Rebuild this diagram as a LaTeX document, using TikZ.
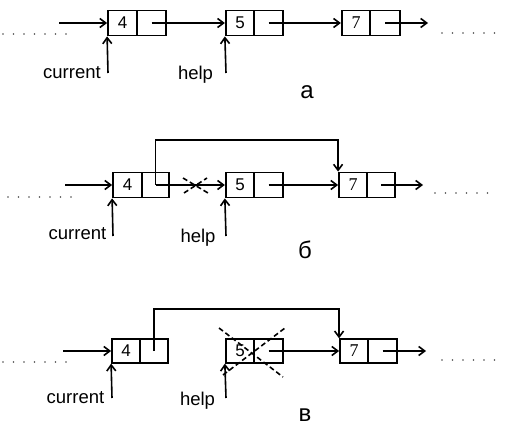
\documentclass[tikz,border=0pt]{standalone}
\usepackage{fontspec}
\setmainfont{Liberation Sans}
\newfontfamily\serifnum{Liberation Serif}
\usetikzlibrary{arrows.meta}
\tikzset{
  cellbox/.style={draw, line width=1.8pt, inner sep=0pt, minimum height=25pt, minimum width=28.5pt, font=\fontsize{17}{17}\selectfont},
  sevenbox/.style={cellbox, font=\serifnum\fontsize{18}{18}\selectfont},
  arr/.style={line width=1.6pt, -{Straight Barb[length=6pt,width=9pt,line width=1.6pt]}},
  lbl/.style={anchor=base, inner sep=0pt, font=\fontsize{18.5}{18.5}\selectfont},
  capltr/.style={anchor=base, inner sep=0pt, font=\fontsize{24}{24}\selectfont},
  dotline/.style={line width=1.6pt, line cap=round, dash pattern=on 0pt off 10.5pt, black!70},
  xcross/.style={line width=1.6pt, dash pattern=on 5pt off 3pt}
}
\begin{document}
\begin{tikzpicture}[x=1pt,y=-1pt]
\useasboundingbox (0,0) rectangle (509,425);
% ---------- row a ----------
\node[cellbox, minimum width=29pt] (a4v) at (122.5,23) {4};
\node[cellbox, minimum width=29pt] (a4p) at (151.5,23) {};
\node[cellbox] (a5v) at (240,23) {5};
\node[cellbox] (a5p) at (268.5,23) {};
\node[sevenbox] (a7v) at (356,23) {7};
\node[cellbox, minimum width=30pt] (a7p) at (385,23) {};
\coordinate (ain) at (59,23);
\coordinate (aout) at (428,23);
\draw[arr] (ain) -- (a4v.west);
\draw[arr] (a4p.center) -- (a5v.west);
\draw[arr] (a5p.center) -- (a7v.west);
\draw[arr] (a7p.center) -- (aout);
\draw[dotline] (3,34) -- (67,34);
\draw[dotline] (442,33) -- (500,33);
\node[lbl] (acur) at (72,79) {current};
\node[lbl] (ahelp) at (195.5,79.5) {help};
\coordinate (acurs) at (108,73);
\coordinate (ahelps) at (226,73);
\draw[arr] (acurs) -- (a4v.south west);
\draw[arr] (ahelps) -- (a5v.south west);
\node[capltr] (capa) at (307,99) {а};
% ---------- row b ----------
\node[cellbox, minimum width=29pt] (b4v) at (127.5,185) {4};
\node[cellbox, minimum width=27pt] (b4p) at (155.5,185) {};
\node[cellbox] (b5v) at (240,185) {5};
\node[cellbox] (b5p) at (268.5,185) {};
\node[sevenbox, minimum width=28pt] (b7v) at (353,185) {7};
\node[cellbox, minimum width=28pt] (b7p) at (381,185) {};
\coordinate (bin) at (65,185);
\coordinate (bout) at (423,185);
\coordinate (btop) at (0,140);
\draw[arr] (bin) -- (b4v.west);
\draw[arr] (b4p.center) -- (b5v.west);
\draw[arr] (b4p.center) -- (b4p.center |- btop) -| (b7v.north west);
\draw[arr] (b5p.center) -- (b7v.west);
\draw[arr] (b7p.center) -- (bout);
\draw[xcross] (183,178) -- (208,193);
\draw[xcross] (184,193) -- (207,178);
\draw[dotline] (8,197) -- (72,197);
\draw[dotline] (435,193) -- (493,193);
\node[lbl] (bcur) at (77.5,240) {current};
\node[lbl] (bhelp) at (198,242) {help};
\coordinate (bcurs) at (113,236);
\coordinate (bhelps) at (226,236);
\draw[arr] (bcurs) -- (b4v.south west);
\draw[arr] (bhelps) -- (b5v.south west);
\node[capltr] (capb) at (305,258) {б};
% ---------- row c ----------
\node[cellbox, minimum height=23.5pt, minimum width=28pt] (c4v) at (126,351) {4};
\node[cellbox, minimum height=23.5pt, minimum width=28pt] (c4p) at (154,351) {};
\node[cellbox, minimum height=23.5pt] (c5v) at (240,351) {5};
\node[cellbox, minimum height=23.5pt] (c5p) at (268.5,351) {};
\node[sevenbox, minimum height=23.5pt, minimum width=28pt] (c7v) at (354,351) {7};
\node[cellbox, minimum height=23.5pt, minimum width=29pt] (c7p) at (382.5,351) {};
\coordinate (cin) at (63,351);
\coordinate (cout) at (426,351);
\coordinate (ctop) at (0,309);
\draw[arr] (cin) -- (c4v.west);
\draw[arr] (c4p.center) -- (c4p.center |- ctop) -| (c7v.north west);
\draw[arr] (c5p.center) -- (c7v.west);
\draw[arr] (c7p.center) -- (cout);
\draw[xcross] (219,328) -- (283,377);
\draw[xcross] (223,375) -- (285,328);
\draw[dotline] (3,362) -- (70,362);
\draw[dotline] (442,360) -- (500,360);
\node[lbl] (ccur) at (75.5,403) {current};
\node[lbl] (chelp) at (197.5,405) {help};
\coordinate (ccurs) at (112,398);
\coordinate (chelps) at (226,398);
\draw[arr] (ccurs) -- (c4v.south west);
\draw[arr] (chelps) -- (c5v.south west);
\node[capltr] (capc) at (305,421) {в};
\end{tikzpicture}
\end{document}
